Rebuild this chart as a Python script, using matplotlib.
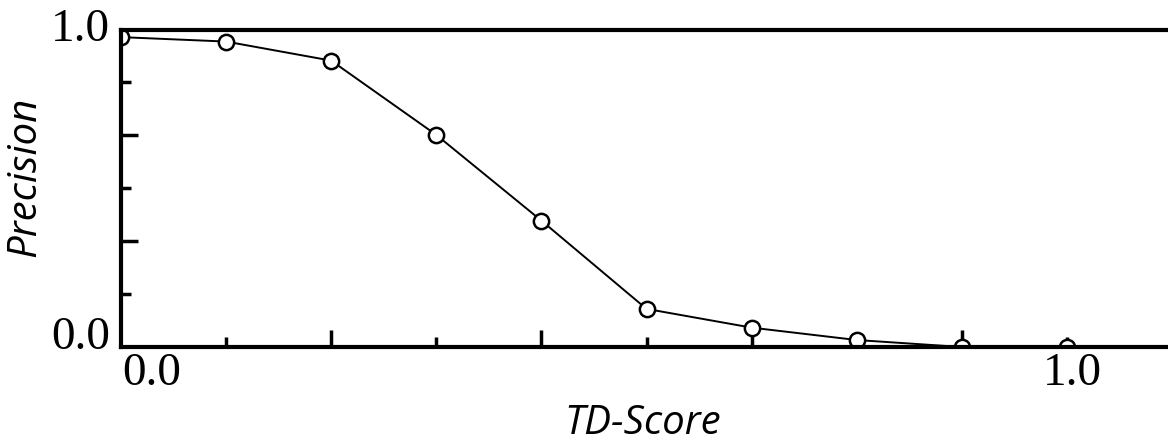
import matplotlib
matplotlib.use("Agg")
import matplotlib.pyplot as plt
from matplotlib.ticker import FixedLocator, NullFormatter

# Data
td_score = [0.0, 0.1, 0.2, 0.3, 0.4, 0.5, 0.6, 0.7, 0.8, 0.9]
precision = [0.976, 0.962, 0.902, 0.668, 0.398, 0.120, 0.061, 0.022, 0.0, 0.0]
x_tick_labels = ["0.0", "1.0"]
y_tick_labels = ["0.0", "1.0"]
x_label = "TD-Score"
y_label = "Precision"

W, H = 1168, 445
fig = plt.figure(figsize=(W / 100, H / 100), dpi=100)
left, right, bottom, top = 121, 1172, 347, 29.5
ax = fig.add_axes([left / W, (H - bottom) / H, (right - left) / W, (bottom - top) / H])

ax.plot(td_score, precision, color="black", lw=1.4, marker="o", markersize=11,
        markerfacecolor="white", markeredgecolor="black", markeredgewidth=1.8, zorder=2)

ax.set_xlim(0, 1.0)
ax.set_ylim(0, 1.0)

for s in ["left", "bottom", "top"]:
    ax.spines[s].set_linewidth(3)
ax.spines["right"].set_visible(False)

ax.xaxis.set_major_locator(FixedLocator([0.2, 0.4, 0.6, 0.8]))
ax.xaxis.set_minor_locator(FixedLocator([0.1, 0.3, 0.5, 0.7, 0.9]))
ax.yaxis.set_major_locator(FixedLocator([2 / 6, 4 / 6]))
ax.yaxis.set_minor_locator(FixedLocator([1 / 6, 3 / 6, 5 / 6]))
ax.xaxis.set_major_formatter(NullFormatter())
ax.yaxis.set_major_formatter(NullFormatter())
ax.tick_params(which="major", direction="in", length=12.5, width=2.5, top=False, right=False)
ax.tick_params(which="minor", direction="in", length=7.5, width=2.5, top=False, right=False)

serif = ["Liberation Serif", "DejaVu Serif"]
fs = 34
# y tick labels
ax.text(-11 / (right - left), 0.03, y_tick_labels[0], transform=ax.transAxes,
        ha="right", va="center", fontsize=fs, family=serif)
ax.text(-11 / (right - left), 1.0, y_tick_labels[1], transform=ax.transAxes,
        ha="right", va="center", fontsize=fs, family=serif)
# x tick labels
ax.text(0.029, -0.085, x_tick_labels[0], transform=ax.transAxes,
        ha="center", va="center", fontsize=fs, family=serif)
ax.text(0.905, -0.085, x_tick_labels[1], transform=ax.transAxes,
        ha="center", va="center", fontsize=fs, family=serif)

sans = ["Open Sans", "DejaVu Sans"]
fig.text(643 / W, 1 - 424 / H, x_label, ha="center", va="center", fontsize=29,
         style="italic", family=sans)
fig.text(25 / W, 1 - 177 / H, y_label, ha="center", va="center", fontsize=29,
         style="italic", family=sans, rotation=90)

fig.savefig("out.png", dpi=100)
